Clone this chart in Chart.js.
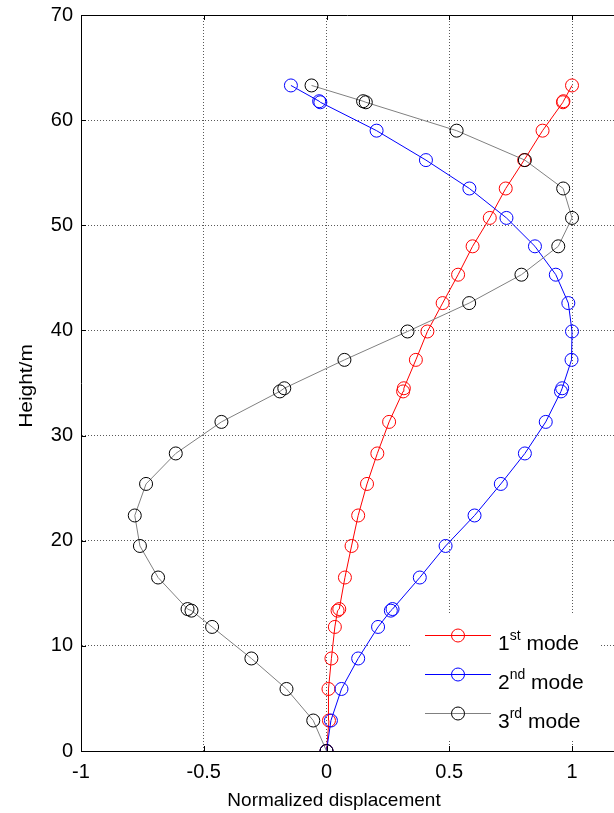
<!DOCTYPE html>
<html>
<head>
<meta charset="utf-8">
<script src="https://cdn.jsdelivr.net/npm/chart.js@4.4.1/dist/chart.umd.min.js"></script>
<style>
  html, body { margin: 0; padding: 0; background: #fff; overflow: hidden; }
  #wrap { width: 614px; height: 813px; }
</style>
</head>
<body>
<div id="wrap"><canvas id="c" width="614" height="813"></canvas></div>
<script>
// Modal shapes: height (m) vs normalized displacement
const heights = [0, 2.9, 5.9, 8.8, 11.8, 13.35, 13.5, 16.5, 19.5, 22.4, 25.4, 28.3, 31.3, 34.2, 34.5,
  37.2, 39.9, 42.6, 45.3, 48.0, 50.7, 53.5, 56.2, 59.0, 61.7, 61.8, 63.3];
const mode1 = [0, 0.01, 0.008, 0.02, 0.034, 0.045, 0.052, 0.075, 0.102, 0.129, 0.165, 0.207, 0.255, 0.312, 0.315,
  0.364, 0.411, 0.473, 0.536, 0.595, 0.665, 0.73, 0.805, 0.88, 0.963, 0.965, 1.0];
const mode2 = [0, 0.018, 0.061, 0.129, 0.21, 0.262, 0.269, 0.38, 0.485, 0.603, 0.71, 0.808, 0.893, 0.955, 0.96,
  0.998, 1.0, 0.985, 0.934, 0.849, 0.733, 0.582, 0.405, 0.204, -0.025, -0.03, -0.145];
const mode3 = [0, -0.054, -0.163, -0.306, -0.466, -0.55, -0.566, -0.686, -0.76, -0.781, -0.735, -0.614, -0.428, -0.19, -0.172,
  0.073, 0.33, 0.581, 0.794, 0.944, 1.0, 0.964, 0.808, 0.53, 0.16, 0.149, -0.061];

const xTicks = [-1, -0.5, 0, 0.5, 1];
const yTicks = [0, 10, 20, 30, 40, 50, 60, 70];
const legendLabels = [["1", "st"], ["2", "nd"], ["3", "rd"]];

const FONT = "Liberation Sans, Arial, sans-serif";

function pts(xs) {
  return xs.map((x, i) => ({ x, y: heights[i] }));
}

function series(xs, lineColor, markColor, order) {
  return {
    data: pts(xs),
    showLine: true,
    borderColor: lineColor,
    borderWidth: 1,
    pointBorderColor: markColor,
    pointBackgroundColor: "rgba(0,0,0,0)",
    pointRadius: 6.5,
    pointBorderWidth: 1,
    pointHoverRadius: 6.5,
    order,
  };
}

const datasets = [
  series(mode1, "#ff0000", "#ff0000", 3),
  series(mode2, "#0000ff", "#0000ff", 2),
  series(mode3, "#808080", "#000000", 1),
];

// ticks pointing inward, top box line, axis titles and the legend
const decor = {
  id: "decor",
  afterDraw(chart) {
    const { ctx, chartArea: a, scales } = chart;
    const xs = scales.x, ys = scales.y;
    ctx.save();
    ctx.strokeStyle = "#000";
    ctx.lineWidth = 1;
    ctx.beginPath();
    ctx.moveTo(a.left, a.top + 0.5);
    ctx.lineTo(a.right, a.top + 0.5);
    for (const v of yTicks) {
      const y = Math.round(ys.getPixelForValue(v)) + 0.5;
      ctx.moveTo(a.left, y);
      ctx.lineTo(a.left + 5, y);
    }
    for (const v of xTicks) {
      const x = Math.round(xs.getPixelForValue(v)) + 0.5;
      ctx.moveTo(x, a.bottom);
      ctx.lineTo(x, a.bottom - 5);
      ctx.moveTo(x, a.top);
      ctx.lineTo(x, a.top + 5);
    }
    ctx.stroke();

    // axis titles
    ctx.fillStyle = "#000";
    ctx.font = "19px " + FONT;
    ctx.textAlign = "center";
    ctx.textBaseline = "alphabetic";
    ctx.fillText("Normalized displacement", 334, 806);
    ctx.save();
    ctx.translate(32, 386);
    ctx.rotate(-Math.PI / 2);
    ctx.scale(1.1, 1);
    ctx.fillText("Height/m", 0, 0);
    ctx.restore();

    // legend
    ctx.fillStyle = "#fff";
    ctx.fillRect(412, 613, 188, 128);
    const rowY = [635, 674, 713];
    datasets.forEach((ds, i) => {
      const y = rowY[i] + 0.5;
      ctx.strokeStyle = ds.borderColor;
      ctx.beginPath();
      ctx.moveTo(425, y);
      ctx.lineTo(491, y);
      ctx.stroke();
      ctx.strokeStyle = ds.pointBorderColor;
      ctx.beginPath();
      ctx.arc(458, y, 6.5, 0, Math.PI * 2);
      ctx.stroke();
      const [num, sup] = legendLabels[i];
      ctx.fillStyle = "#000";
      ctx.textAlign = "left";
      ctx.textBaseline = "alphabetic";
      let x = 498;
      const base = rowY[i] + 14.5;
      ctx.font = "21px " + FONT;
      ctx.fillText(num, x, base);
      x += ctx.measureText(num).width;
      ctx.font = "14px " + FONT;
      ctx.fillText(sup, x, base - 10);
      x += ctx.measureText(sup).width;
      ctx.font = "21px " + FONT;
      ctx.fillText(" mode", x, base);
    });
    ctx.restore();
  },
};

new Chart(document.getElementById("c"), {
  type: "scatter",
  data: { datasets },
  options: {
    responsive: false,
    animation: false,
    layout: { autoPadding: false, padding: { top: 15, left: 0, right: 0, bottom: 0 } },
    plugins: { legend: { display: false }, tooltip: { enabled: false } },
    scales: {
      x: {
        type: "linear",
        min: -1,
        max: 1.171,
        afterBuildTicks: (s) => { s.ticks = xTicks.map((v) => ({ value: v })); },
        afterFit: (s) => { s.height = 62; s.paddingLeft = 0; s.paddingRight = 0; },
        ticks: { color: "#000", font: { size: 20, family: FONT }, padding: 9, maxRotation: 0,
          callback: (v) => String(v) },
        grid: { color: "rgba(0,0,0,0.65)", lineWidth: 1, drawTicks: false },
        border: { display: true, color: "#000", width: 1, dash: [1, 2] },
      },
      y: {
        type: "linear",
        min: 0,
        max: 70,
        afterBuildTicks: (s) => { s.ticks = yTicks.map((v) => ({ value: v })); },
        afterFit: (s) => { s.width = 81; s.paddingTop = 0; s.paddingBottom = 0; },
        ticks: { color: "#000", font: { size: 20, family: FONT }, padding: 8,
          callback: (v) => String(v) },
        grid: { color: "rgba(0,0,0,0.65)", lineWidth: 1, drawTicks: false },
        border: { display: true, color: "#000", width: 1, dash: [1, 2] },
      },
    },
  },
  plugins: [decor],
});
</script>
</body>
</html>
